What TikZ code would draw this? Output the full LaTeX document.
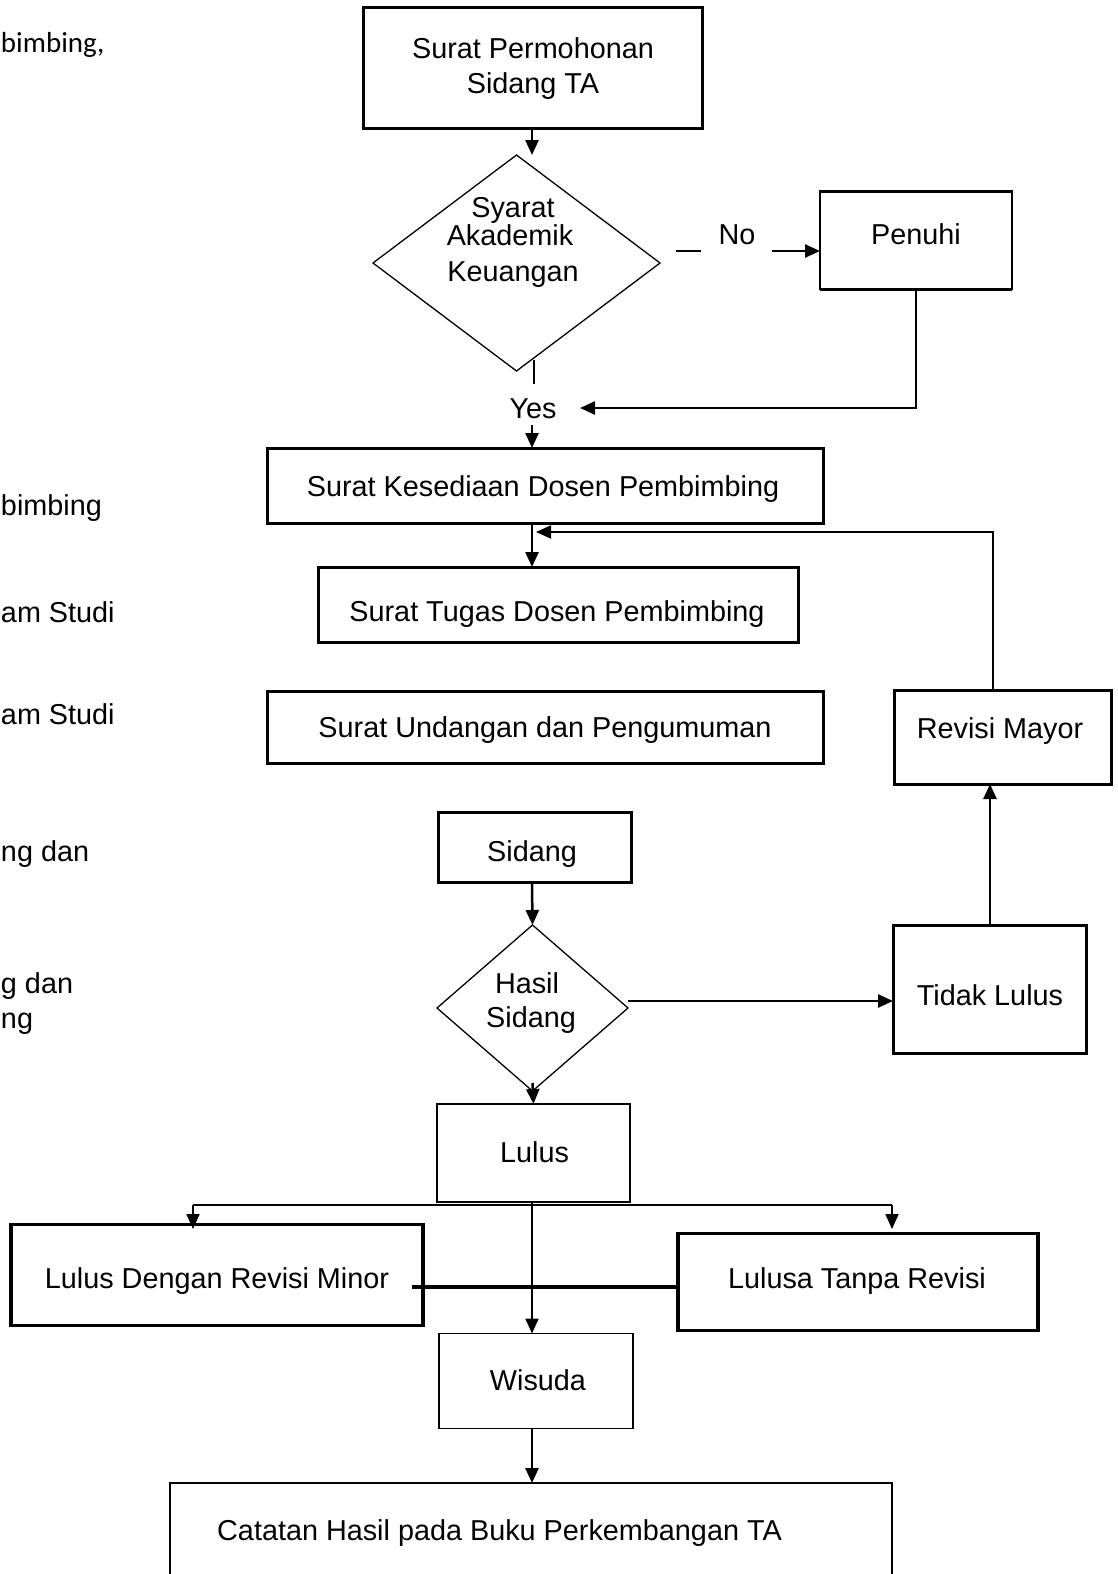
\documentclass[tikz,border=0pt]{standalone}
\usepackage{fontspec}
\setmainfont{Liberation Sans}
\newfontfamily\calib{Carlito}
\usetikzlibrary{arrows.meta,shapes.geometric,calc}
\newcommand{\myfs}{\fontsize{28.8}{34}\selectfont}
\tikzset{
  box/.style={draw, line width=3pt, inner sep=0pt, outer sep=0pt},
  thinbox/.style={draw, line width=1.3pt, inner sep=0pt, outer sep=0pt},
  dia/.style={draw, diamond, line width=1.3pt, inner sep=0pt, outer sep=0pt},
  txt/.style={font=\myfs, inner sep=0pt, outer sep=0pt, anchor=base},
  sidetxt/.style={font=\myfs, inner sep=0pt, outer sep=0pt, anchor=base west},
  arr/.style={line width=2.5pt, -{Triangle[length=15pt,width=13pt]}},
  ln/.style={line width=2.5pt},
}
\begin{document}
\begin{tikzpicture}[x=1pt,y=-1pt]
\useasboundingbox (0,0) rectangle (1118,1574);
\fill[white] (0,0) rectangle (1118,1574);
\clip (0,0) rectangle (1118,1574);

% left texts (fragments as printed)
\node[sidetxt, font=\calib\fontsize{29}{34}\selectfont] (s1) at (1,52) {bimbing,};
\node[sidetxt] (s2) at (1,515) {bimbing};
\node[sidetxt] (s3) at (1,622) {am Studi};
\node[sidetxt] (s4) at (1,724) {am Studi};
\node[sidetxt] (s5) at (1,861) {ng dan};
\node[sidetxt] (s6) at (1,993) {g dan};
\node[sidetxt] (s7) at (1,1028) {ng};

% boxes
\node[box, minimum width=339, minimum height=121] (b1) at (532.5,67.5) {};
\node[dia, minimum width=287, minimum height=216] (d1) at (516.5,263) {};
\node[thinbox, minimum width=192, minimum height=98] (pen) at (916,240) {};
\draw[line width=3pt] (pen.north west) -- (pen.north east);
\draw[line width=3pt] (pen.south west) -- (pen.south east);
\node[box, minimum width=556, minimum height=75] (b2) at (545,485.5) {};
\node[box, minimum width=480, minimum height=75] (b3) at (558,604.5) {};
\node[box, minimum width=556, minimum height=72] (b4) at (545,727) {};
\node[box, minimum width=217, minimum height=94] (rev) at (1002.5,737) {};
\node[box, minimum width=193, minimum height=70] (sid) at (534.5,847) {};
\node[dia, minimum width=191, minimum height=166] (d2) at (532.5,1008) {};
\node[thinbox, minimum width=193, minimum height=98] (lulus) at (533.5,1153) {};
\node[box, minimum width=193, minimum height=128] (tl) at (989.5,989) {};
\node[box, line width=3.5pt, minimum width=412, minimum height=101] (ldrm) at (217,1275) {};
\node[box, line width=3.5pt, minimum width=360, minimum height=97] (ltr) at (858,1282) {};
\node[thinbox, minimum width=194, minimum height=95] (wis) at (536,1381) {};
\node[thinbox, minimum width=722, minimum height=130] (cat) at (531,1548) {};

% texts
\node[txt] (t1a) at (533,58) {Surat Permohonan};
\node[txt] (t1b) at (533,93) {Sidang TA};
\node[txt] (td1a) at (513,217) {Syarat};
\node[txt] (td1b) at (510,245) {Akademik};
\node[txt] (td1c) at (513,281) {Keuangan};
\node[txt] (tno) at (737,244) {No};
\node[txt] (tpen) at (916,244) {Penuhi};
\node[txt] (yes) at (533,418) {Yes};
\node[txt] (tb2) at (543,496) {Surat Kesediaan Dosen Pembimbing};
\node[txt] (tb3) at (557,621) {Surat Tugas Dosen Pembimbing};
\node[txt] (tb4) at (545,737) {Surat Undangan dan Pengumuman};
\node[txt] (trev) at (1000,738) {Revisi Mayor};
\node[txt] (tsid) at (532,861) {Sidang};
\node[txt] (td2a) at (527,993) {Hasil};
\node[txt] (td2b) at (531,1027) {Sidang};
\node[txt] (tlulus) at (534.5,1162) {Lulus};
\node[txt] (ttl) at (990,1005) {Tidak Lulus};
\node[txt] (tldrm) at (217,1288) {Lulus Dengan Revisi Minor};
\node[txt] (tltr) at (857,1288) {Lulusa Tanpa Revisi};
\node[txt] (twis) at (538,1390) {Wisuda};
\node[anchor=base west, font=\myfs, inner sep=0pt] (tcat) at (217,1540) {Catatan Hasil pada Buku Perkembangan TA};

% helper coordinates
\coordinate (vx) at (532,0);
\coordinate (noA) at (676,251);
\coordinate (noB) at (701,251);
\coordinate (noarr) at (772,251);
\coordinate (yesin) at (580,408);
\coordinate (stubA) at (534,360);
\coordinate (stubB) at (534,384);
\coordinate (yesout) at (532,425);
\coordinate (fbx) at (993,0);
\coordinate (fbtip) at (536,532);
\coordinate (rx) at (990,0);
\coordinate (splitL) at (193,1205);
\coordinate (splitR) at (892,1205);
\coordinate (mlA) at (412,1287);

% connectors
\draw[arr] (b1.south -| vx) -- (d1.north -| vx);
\draw[ln] (noA) -- (noB);
\draw[arr] (noarr) -- (noarr -| pen.west);
\draw[ln, -{Triangle[length=15pt,width=13pt]}] (pen.south) |- (yesin);
\draw[ln] (stubA) -- (stubB);
\draw[arr] (yesout) -- (yesout |- b2.north);
\draw[arr] (b2.south -| vx) -- (b3.north -| vx);
\draw[line width=2pt, -{Triangle[length=15pt,width=13pt]}] (rev.north -| fbx) |- (fbtip);
\draw[arr] (sid.south -| vx) -- (d2.north);
\draw[arr] ([yshift=8pt]d2.south) -- (lulus.north);
\draw[arr] ([yshift=7pt]d2.east) -- ([yshift=7pt]d2.east -| tl.west);
\draw[arr] (tl.north -| rx) -- (rev.south -| rx);
\draw[line width=1.5pt] (splitL) -- (splitR);
\draw[arr, line width=1.8pt] (splitL) -- ++(0,24);
\draw[arr, line width=1.8pt] (splitR) -- ++(0,24);
\draw[line width=3.5pt] (mlA) -- (mlA -| ltr.west);
\draw[arr, line width=2pt] (lulus.south -| vx) -- (wis.north -| vx);
\draw[arr] (wis.south -| vx) -- (cat.north -| vx);
\end{tikzpicture}
\end{document}
